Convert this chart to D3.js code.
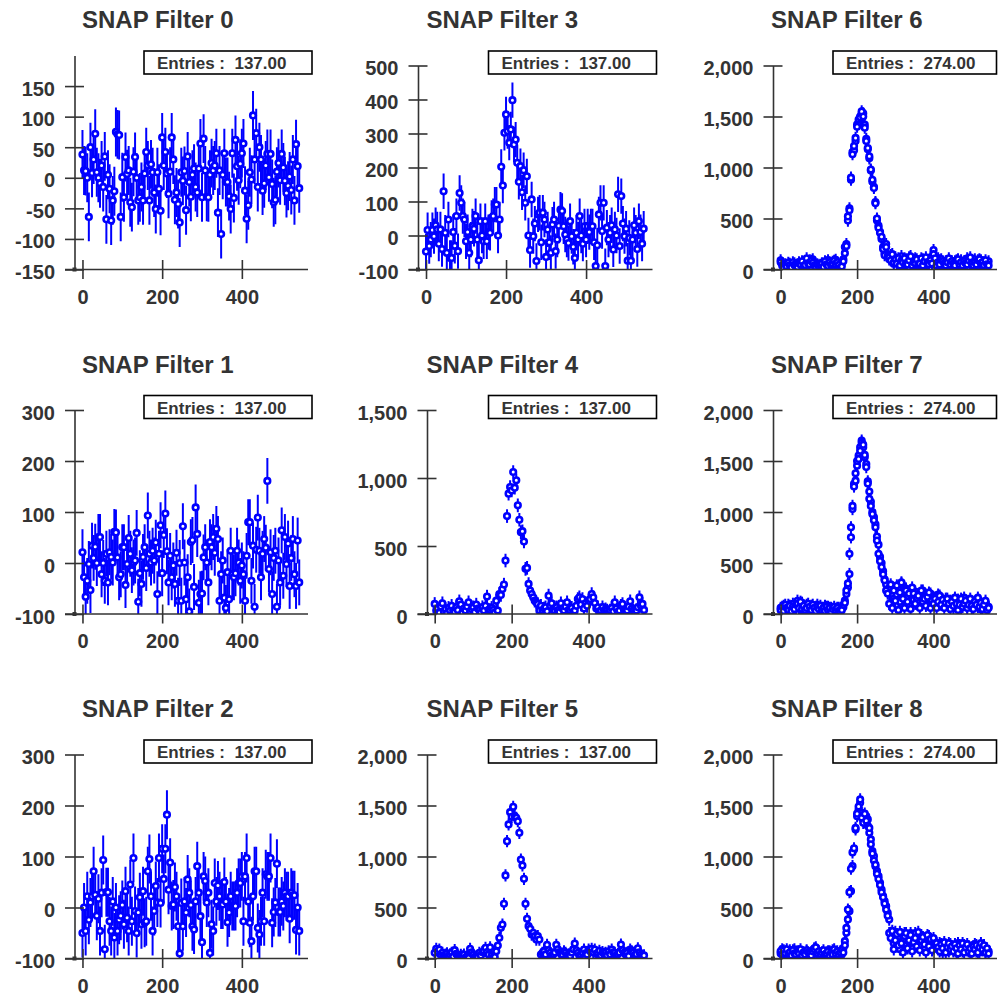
<!DOCTYPE html>
<html>
<head>
<meta charset="utf-8">
<script src="https://cdn.jsdelivr.net/npm/d3@7"></script>
<style>
  body { margin: 0; background: #fff; }
  text { font-family: "Liberation Sans", Arial, Helvetica, sans-serif; font-weight: bold; fill: #333; }
</style>
</head>
<body>
<svg id="chart" width="998" height="996"></svg>
<script>
// SNAP filter panels

const titles = ["SNAP Filter 0", "SNAP Filter 1", "SNAP Filter 2",
                "SNAP Filter 3", "SNAP Filter 4", "SNAP Filter 5",
                "SNAP Filter 6", "SNAP Filter 7", "SNAP Filter 8"];
const entries = [137, 137, 137, 137, 137, 137, 274, 274, 274];
const errors = [40, 45, 48, 52, 50, 60, 60, 60, 60];

const xTicks = [0, 200, 400];
const yTicks = [
  [-150, -100, -50, 0, 50, 100, 150],
  [-100, 0, 100, 200, 300],
  [-100, 0, 100, 200, 300],
  [-100, 0, 100, 200, 300, 400, 500],
  [0, 500, 1000, 1500],
  [0, 500, 1000, 1500, 2000],
  [0, 500, 1000, 1500, 2000],
  [0, 500, 1000, 1500, 2000],
  [0, 500, 1000, 1500, 2000]];
const yDomains = [[-150, 200], [-100, 300], [-100, 300], [-100, 500],
                  [0, 1500], [0, 2000], [0, 2000], [0, 2000], [0, 2000]];
const xDomain = [-20, 566];

const filter0 = [38, 12, 11, 0, -64, 50, 8, 30, 72, 9,
  0, -9, 20, -15, 35, -68, 5, -18, -70, -37,
  -22, 75, 71, 70, -64, 1, -32, 34, 6, 12,
  -40, -48, 10, 34, 0, -37, -32, -15, -37, 7,
  42, 20, -37, 22, 9, -24, -51, 9, -18, -54,
  66, 20, 42, 7, -26, 10, 66, 30, -36, -24,
  -43, -73, 9, -5, 11, -53, 35, -7, -31, 5,
  15, -15, -24, 15, 56, -32, 64, 12, -31, -32,
  5, 24, 12, 20, 40, -57, 12, -92, 5, 40,
  -7, -7, -30, -51, 40, -33, 62, 19, -4, 23,
  40, 56, -21, -67, -45, 9, -3, 102, 30, 73,
  -15, 50, 30, -21, -9, 20, 39, 1, 39, -10,
  -40, -36, 10, 24, -4, 39, 17, -5, -25, -13,
  2, -20, 30, -37, 55, 19, -17];

const filter1 = [21, -28, -66, -35, -2, -53, 34, 10, 32, 0,
  51, 51, -22, 0, -35, 18, -38, 21, 12, 1,
  61, 60, 11, -28, -22, 31, 31, -43, -2, 49,
  18, -14, 1, 5, 59, -76, -20, -41, 12, 31,
  -10, 93, 18, 1, 24, 5, 40, -61, 18, 74,
  -20, 55, 97, 23, -38, 14, -28, -5, -41, 20,
  -74, 0, -74, 72, 1, -71, -28, -95, 41, 45,
  -47, 109, 57, -78, -61, -60, 11, 31, 1, -38,
  41, 31, 51, 20, 67, 47, -74, -22, 5, -68,
  -88, -18, -71, 24, -22, -28, -20, 24, 1, -35,
  -5, -22, -74, 14, 80, 80, -35, 34, -86, 26,
  89, 24, -28, 18, 47, 30, 161, -12, 21, -61,
  10, 24, -86, 5, -38, 64, -25, 51, -2, 38,
  -45, 10, 47, -22, -45, 44, -38];

const filter2 = [-50, 0, -46, 22, -24, 10, 22, 71, 25, -16,
  17, -46, 29, 93, -82, 30, 30, -27, -46, 12,
  -59, 0, -46, -24, -16, 5, -33, 32, -20, -46,
  45, -27, 97, -7, -50, -10, 20, -33, 32, -30,
  -27, 71, 95, 22, -46, -7, 42, 10, 97, 9,
  115, 56, 115, 182, 35, 88, 3, 6, 40, 22,
  -37, -90, 9, -37, 12, -10, 55, 29, 5, -37,
  -43, 12, 81, 29, -17, -68, 61, 52, 10, 29,
  -89, -33, -46, 48, 12, 43, 22, 6, 6, 50,
  12, -29, -10, 22, 3, 3, 3, 29, 48, 48,
  61, -27, 61, 97, 12, -30, -66, 22, 71, 71,
  -40, -53, -27, 29, -27, 65, 61, 61, 97, -30,
  -9, 10, 86, -9, -9, 12, 3, 29, 22, 22,
  -22, 29, 24, 24, -44, 0, -46];

const filter3 = [-47, 16, -31, -12, 16, -2, 30, 18, -24, 18,
  -40, 130, 8, -51, 47, -66, -66, 10, -30, 57,
  -46, 125, 96, 57, 47, -17, 10, -51, -12, 27,
  20, 57, -12, -73, 42, 0, -17, 42, -17, 10,
  8, 52, 57, 91, 91, 0, 47, 202, 147, 302,
  356, 307, 273, 312, 398, 268, 282, 214, 158, 204,
  127, 192, 96, 174, 0, -43, 106, -2, 35, -75,
  62, 67, -20, 67, 47, -63, 18, -20, -51, 32,
  47, -46, -12, 29, 76, 72, 27, 3, -12, -22,
  42, -2, -33, -66, 8, -12, 57, 0, -24, 27,
  -12, 27, 10, 27, 27, -20, -90, -29, 62, 96,
  13, 96, -90, 23, -12, 8, 30, -41, 18, 0,
  121, -31, 116, 35, -2, 20, -74, -7, -74, -12,
  30, 8, -40, 42, 10, -24, 20];

const filter4 = [74, 25, 40, 10, 55, 79, 20, 37, 5, 45,
  25, 60, 25, 15, 50, 30, 93, 69, 10, 40,
  25, 55, 86, 20, 35, 49, 15, 69, 40, 29,
  10, 50, 25, 60, 128, 30, 29, 45, 29, 10,
  98, 25, 147, 140, 184, 216, 393, 720, 885, 934,
  909, 1044, 929, 983, 799, 693, 602, 609, 533, 332,
  339, 221, 172, 147, 123, 98, 85, 74, 25, 60,
  25, 40, 49, 20, 135, 60, 79, 30, 25, 50,
  29, 15, 79, 40, 25, 55, 86, 30, 25, 45,
  15, 25, 60, 110, 123, 70, 110, 40, 79, 60,
  98, 110, 147, 123, 80, 40, 49, 20, 25, 50,
  25, 35, 25, 10, 25, 45, 20, 86, 40, 15,
  25, 60, 74, 30, 20, 25, 55, 93, 40, 25,
  10, 25, 50, 123, 60, 74, 30];

const filter5 = [56, 95, 70, 88, 40, 56, 30, 39, 50, 25,
  40, 56, 20, 82, 45, 29, 15, 35, 20, 39,
  10, 20, 5, 95, 60, 39, 15, 5, 10, 56,
  30, 62, 75, 105, 62, 39, 110, 29, 10, 15,
  72, 127, 203, 301, 333, 536, 814, 1150, 1314, 1435,
  1389, 1487, 1395, 1379, 1346, 1232, 970, 912, 781, 536,
  389, 317, 291, 235, 252, 219, 186, 219, 186, 39,
  56, 72, 40, 134, 80, 56, 30, 39, 60, 134,
  90, 62, 45, 39, 70, 56, 30, 40, 25, 60,
  90, 147, 80, 56, 30, 39, 60, 88, 50, 40,
  88, 70, 95, 60, 88, 45, 56, 75, 30, 62,
  45, 56, 30, 70, 40, 88, 60, 56, 30, 45,
  60, 137, 82, 56, 40, 56, 25, 88, 70, 56,
  30, 45, 100, 60, 39, 20, 30];

const filter6a = [90, 60, 35, 20, 45, 30, 55, 25, 40, 60,
  30, 50, 70, 45, 25, 60, 80, 40, 55, 90,
  70, 100, 60, 45, 30, 40, 20, 35, 55, 40,
  70, 90, 55, 60, 75, 50, 95, 40, 30, 20,
  60, 100,
  160, 250, 480, 600, 880, 1150, 1170, 1260, 1420, 1440,
  1500, 1530, 1530, 1420, 1280, 1180, 1090, 970, 860, 810,
  660, 480, 430, 370, 300, 220, 160, 250, 150,
  100, 140, 80, 60, 120, 90, 50, 70, 130, 60,
  40, 100, 80, 120, 50, 70, 90, 110, 40, 60,
  80, 50, 100, 70, 40, 60, 90, 120, 70, 190,
  80, 60, 110, 90, 70, 40, 60, 80, 50, 90,
  70, 30, 60, 80, 50, 40, 70, 90, 60, 50,
  80, 110, 70, 60, 40, 80, 100, 70, 50, 60,
  90, 40, 70, 50, 60, 80];

const filter6b = [70, 40, 20, 50, 30, 65, 40, 20, 70, 45,
  35, 25, 60, 50, 80, 35, 45, 110, 60, 50,
  85, 65, 40, 25, 50, 30, 45, 60, 25, 80,
  50, 35, 70, 45, 60, 85, 55, 70, 45, 15,
  30, 80,
  220, 230, 520, 580, 900, 1130, 1210, 1290, 1400, 1470,
  1490, 1550, 1500, 1390, 1260, 1190, 1110, 980, 880, 800,
  650, 500, 410, 360, 320, 200, 140, 220, 130,
  120, 90, 150, 70, 100, 60, 110, 40, 90, 70,
  110, 60, 50, 90, 130, 40, 70, 60, 100, 50,
  60, 110, 40, 80, 120, 70, 50, 90, 60, 150,
  110, 40, 70, 50, 100, 80, 60, 40, 70, 110,
  50, 80, 60, 40, 90, 100, 50, 70, 40, 80,
  60, 50, 90, 120, 60, 40, 70, 50, 90, 100,
  60, 70, 40, 90, 50, 40];

const filter7a = [60, 30, 80, 50, 20, 90, 60, 40, 100, 70,
  50, 130, 80, 60, 110, 40, 70, 90, 50, 30,
  80, 60, 40, 70, 90, 50, 30, 60, 40, 80,
  50, 70, 30, 60, 40, 20, 50, 30, 60, 40,
  65,
  65, 131, 196, 261, 392, 752, 1029, 1275, 1307, 1454,
  1552, 1634, 1700, 1634, 1536, 1470, 1300, 1200, 1100, 1000,
  950, 880, 760, 680, 560, 500, 420, 340, 290,
  230, 260, 200, 180, 150, 240, 190, 260, 120, 300,
  210, 160, 250, 180, 90, 230, 170, 140, 220, 190,
  130, 200, 160, 230, 110, 180, 140, 90, 200, 150,
  120, 160, 90, 190, 140, 100, 130, 80, 150, 110,
  70, 130, 100, 60, 120, 90, 140, 80, 60, 110,
  160, 90, 70, 120, 100, 60, 110, 80, 130, 70,
  90, 60, 100, 80, 110, 60, 70];

const filter7b = [40, 70, 30, 90, 60, 40, 80, 30, 70, 50,
  90, 100, 60, 120, 50, 80, 40, 60, 100, 70,
  40, 90, 60, 30, 70, 50, 80, 40, 60, 30,
  70, 40, 60, 20, 50, 70, 40, 60, 30, 20,
  40,
  90, 110, 230, 300, 590, 850, 1060, 1250, 1380, 1500,
  1520, 1600, 1680, 1660, 1560, 1440, 1280, 1130, 1060, 980,
  920, 850, 720, 590, 520, 460, 390, 330, 230,
  200, 100, 290, 60, 230, 130, 280, 40, 210, 310,
  150, 60, 230, 120, 200, 50, 260, 200, 100, 160,
  180, 60, 230, 120, 150, 80, 170, 210, 60, 130,
  100, 150, 60, 120, 180, 90, 140, 60, 110, 150,
  100, 50, 120, 80, 160, 100, 40, 90, 150, 70,
  100, 130, 60, 90, 150, 80, 50, 120, 90, 160,
  70, 110, 50, 90, 130, 40, 60];

const filter8a = [50, 90, 40, 70, 30, 60, 80, 40, 50, 90,
  60, 30, 70, 40, 60, 20, 50, 70, 40, 30,
  60, 40, 100, 90, 60, 30, 50, 40, 20, 50,
  60, 40, 70, 50, 80, 40, 60, 30, 50, 70,
  40, 100,
  170, 252, 383, 464, 660, 905, 1069, 1265, 1395, 1461,
  1526, 1428, 1363, 1379, 1395, 1363, 1232, 1167, 1052, 1003,
  905, 856, 807, 742, 676, 611, 562, 513, 448, 382,
  252, 219, 150, 260, 120, 200, 90, 240, 180, 250,
  130, 220, 160, 250, 100, 210, 250, 140, 200, 120,
  230, 180, 90, 200, 150, 220, 130, 180, 100, 160,
  120, 90, 150, 110, 60, 130, 90, 120, 70, 140,
  100, 80, 120, 60, 150, 90, 110, 70, 130, 100,
  80, 120, 60, 110, 90, 140, 70, 100, 60, 120,
  80, 110, 60, 90, 70];

const filter8b = [70, 40, 80, 50, 90, 40, 60, 30, 80, 50,
  40, 70, 50, 90, 30, 60, 40, 80, 60, 50,
  30, 70, 90, 110, 50, 70, 40, 60, 80, 40,
  50, 70, 30, 60, 40, 90, 50, 70, 40, 60,
  80, 60,
  130, 300, 480, 650, 880, 1040, 1080, 1280, 1420, 1490,
  1560, 1380, 1330, 1420, 1350, 1300, 1280, 1120, 1030, 960,
  920, 830, 780, 720, 650, 600, 540, 480, 420, 250,
  200, 270, 90, 180, 240, 130, 260, 150, 60, 220,
  250, 100, 180, 230, 70, 160, 200, 120, 260, 80,
  180, 210, 140, 60, 230, 120, 190, 80, 200, 140,
  150, 110, 70, 140, 100, 160, 60, 110, 150, 90,
  120, 70, 140, 100, 50, 130, 90, 150, 60, 110,
  140, 70, 100, 50, 120, 90, 130, 60, 110, 150,
  90, 130, 60, 100, 50];

const panelSeries = [[filter0], [filter1], [filter2], [filter3], [filter4], [filter5],
                     [filter6a, filter6b], [filter7a, filter7b], [filter8a, filter8b]];
// bins sit every 4 units along x
const binStep = 4;

// layout
const pitch = 344.5;
const plotRight = 308, plotBottom = 269.5, plotTop = 65.5;
const axisXs = [74.5, 74.5, 74.5, 73.5, 82.5, 82.5, 84, 84, 84];
const tick = 9.5;
const blue = "#0000ff", ink = "#333";

const fmt = d3.formatLocale({decimal: ".", thousands: ",", grouping: [3],
                             currency: ["", ""], minus: "-"}).format(",");

const svg = d3.select("#chart");

titles.forEach((title, k) => {
  const col = Math.floor(k / 3), row = k % 3;
  const g = svg.append("g")
    .attr("transform", `translate(${col * pitch},${row * pitch})`);
  const ax = axisXs[k];

  // panel 0 axis reaches further up than its last tick
  const yTop = k === 0 ? 55.5 : plotTop;
  const x = d3.scaleLinear().domain(xDomain).range([ax, plotRight]);
  const y = d3.scaleLinear().domain(yDomains[k]).range([plotBottom, yTop]);

  g.append("clipPath").attr("id", "clip" + k)
    .append("rect")
    .attr("x", ax).attr("y", yTop)
    .attr("width", plotRight - ax).attr("height", plotBottom - yTop);

  const plot = g.append("g").attr("clip-path", `url(#clip${k})`);
  const err = errors[k];
  const pts = panelSeries[k].flatMap(vals =>
    vals.map((v, i) => ({x: i * binStep, y: v})));

  plot.selectAll("line.err").data(pts).join("line")
    .attr("class", "err")
    .attr("x1", d => x(d.x)).attr("x2", d => x(d.x))
    .attr("y1", d => y(d.y - err)).attr("y2", d => y(d.y + err))
    .attr("stroke", blue).attr("stroke-width", 2);

  plot.selectAll("circle").data(pts).join("circle")
    .attr("cx", d => x(d.x)).attr("cy", d => y(d.y))
    .attr("r", 2.8)
    .attr("fill", "#fff")
    .attr("stroke", blue).attr("stroke-width", 2.6);

  // y axis, ticks crossing the line
  const yAxis = g.append("g")
    .attr("transform", `translate(${ax},0)`)
    .call(d3.axisLeft(y).tickValues(yTicks[k]).tickFormat(fmt)
      .tickSize(tick).tickPadding(10).tickSizeOuter(0));
  yAxis.selectAll(".tick line").attr("x1", tick);
  yAxis.selectAll("path, line").attr("stroke", ink).attr("stroke-width", 1.6);
  yAxis.selectAll("text").attr("dy", "0.45em");

  // x axis
  const xAxis = g.append("g")
    .attr("transform", `translate(0,${plotBottom})`)
    .call(d3.axisBottom(x).tickValues(xTicks).tickFormat(fmt)
      .tickSize(tick).tickPadding(10.5).tickSizeOuter(0));
  xAxis.select(".domain").remove();
  xAxis.selectAll(".tick line").attr("y1", -tick);
  xAxis.append("line")
    .attr("x1", ax - tick).attr("x2", plotRight)
    .attr("y1", 0).attr("y2", 0);
  xAxis.selectAll("line").attr("stroke", ink).attr("stroke-width", 1.6);

  [yAxis, xAxis].forEach(a => a.attr("font-size", null).attr("font-family", null)
    .selectAll("text").style("font-size", "20px").attr("fill", ink));

  g.append("rect")
    .attr("x", ax - 2).attr("y", plotBottom - 2)
    .attr("width", 4).attr("height", 4)
    .attr("fill", ink);

  g.append("text")
    .attr("x", 82).attr("y", 28)
    .style("font-size", "24px")
    .text(title);

  const boxX = 144;
  const boxW = Math.min(168, 998 - col * pitch - boxX - 1.5);
  g.append("rect")
    .attr("x", boxX).attr("y", 51)
    .attr("width", boxW).attr("height", 23)
    .attr("fill", "#fff").attr("stroke", "#000").attr("stroke-width", 1.6);
  g.append("text")
    .attr("x", boxX + 13).attr("y", 69)
    .style("font-size", "17px")
    .style("white-space", "pre")
    .text("Entries :  " + d3.format(".2f")(entries[k]));
});
</script>
</body>
</html>
